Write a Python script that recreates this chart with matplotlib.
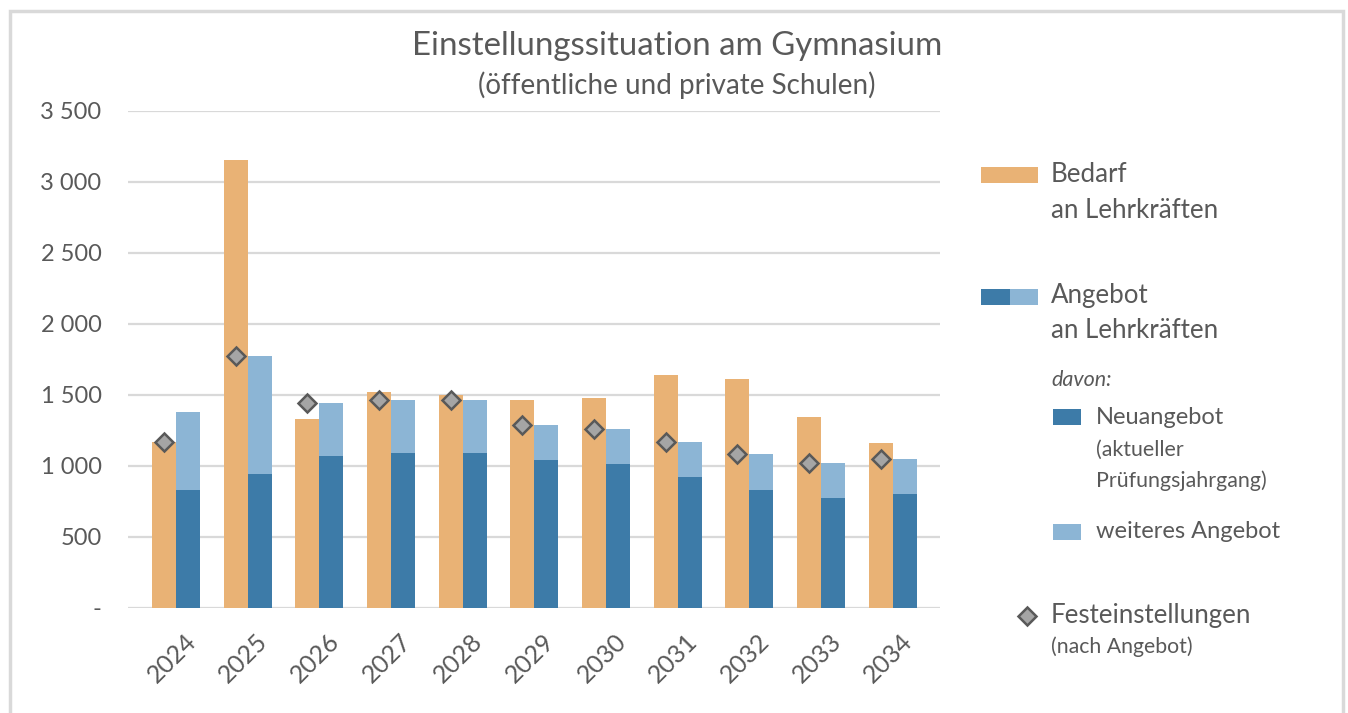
import matplotlib
matplotlib.use("Agg")
import matplotlib.pyplot as plt
from matplotlib.patches import Rectangle
from matplotlib.lines import Line2D
from matplotlib.transforms import ScaledTranslation
import numpy as np

years = ["2024", "2025", "2026", "2027", "2028", "2029", "2030", "2031", "2032", "2033", "2034"]
bedarf = [1170, 3150, 1330, 1520, 1500, 1460, 1480, 1640, 1610, 1340, 1160]
neuangebot = [830, 940, 1070, 1090, 1090, 1040, 1010, 920, 830, 770, 800]
angebot_gesamt = [1380, 1770, 1440, 1460, 1460, 1290, 1260, 1170, 1080, 1020, 1050]
festeinstellungen = [1170, 1770, 1440, 1460, 1460, 1290, 1260, 1170, 1080, 1020, 1050]
yticks = [0, 500, 1000, 1500, 2000, 2500, 3000, 3500]
ytick_labels = ["-", "500", "1 000", "1 500", "2 000", "2 500", "3 000", "3 500"]

weiteres = [t - n for t, n in zip(angebot_gesamt, neuangebot)]

C_OR = "#E9B275"
C_DB = "#3D7BA8"
C_LB = "#8CB5D5"
C_TXT = "#595959"
C_GRID = "#D9D9D9"

FONT = "Lato"
plt.rcParams["font.family"] = [FONT, "DejaVu Sans"]

W, H = 1348, 713
fig = plt.figure(figsize=(W / 100, H / 100), dpi=100)

def fx(x):
    return x / W

def fy(y):
    return 1 - y / H

ax = fig.add_axes([fx(128), fy(607.7), fx(940) - fx(128), fy(110.7) - fy(607.7)])
x = np.arange(len(years))
bw = 0.335
ax.bar(x - bw / 2, bedarf, width=bw, color=C_OR, zorder=3)
ax.bar(x + bw / 2, neuangebot, width=bw, color=C_DB, zorder=3)
ax.bar(x + bw / 2, weiteres, width=bw, bottom=neuangebot, color=C_LB, zorder=3)
ax.plot(x - bw / 2, festeinstellungen, linestyle="none", marker="D", markersize=9.5,
        markerfacecolor="#A5A5A5", markeredgecolor="#595959", markeredgewidth=1.8, zorder=4)

ax.set_xlim(-0.67, 10.66)
ax.set_ylim(0, 3500)
ax.set_yticks(yticks)
ax.set_yticklabels(ytick_labels)
ax.set_xticks(x)
ax.set_xticklabels(years, rotation=45, ha="right", rotation_mode="anchor")
ax.tick_params(axis="both", length=0, colors=C_TXT, labelsize=17)
ax.tick_params(axis="x", labelsize=18)
ax.tick_params(axis="y", pad=19)
ax.tick_params(axis="x", pad=16)
off = ScaledTranslation(8 / 100, 0, fig.dpi_scale_trans)
for lab in ax.get_xticklabels():
    lab.set_transform(lab.get_transform() + off)
ax.grid(axis="y", color=C_GRID, linewidth=1.6, zorder=0)
for s in ax.spines.values():
    s.set_visible(False)

# figure border
fig.add_artist(Rectangle((fx(10), fy(760)), fx(1343) - fx(10), fy(11) - fy(760),
                         transform=fig.transFigure, fill=False, edgecolor="#D9D9D9", linewidth=2.5))

# titles
fig.text(fx(677), fy(46), "Einstellungssituation am Gymnasium", ha="center", va="center",
         fontsize=23.8, color=C_TXT)
fig.text(fx(677), fy(85), "(öffentliche und private Schulen)", ha="center", va="center",
         fontsize=20, color=C_TXT)

# legend
def rect(x0, y0, x1, y1, c):
    fig.add_artist(Rectangle((fx(x0), fy(y1)), fx(x1) - fx(x0), fy(y0) - fy(y1),
                             transform=fig.transFigure, color=c, linewidth=0))

rect(981, 167, 1038, 183, C_OR)
fig.text(fx(1051), fy(175), "Bedarf", va="center", fontsize=18.6, color=C_TXT)
fig.text(fx(1051), fy(210), "an Lehrkräften", va="center", fontsize=18.6, color=C_TXT)

rect(981, 289, 1009.5, 305, C_DB)
rect(1009.5, 289, 1038, 305, C_LB)
fig.text(fx(1051), fy(296), "Angebot", va="center", fontsize=18.6, color=C_TXT)
fig.text(fx(1051), fy(330), "an Lehrkräften", va="center", fontsize=18.6, color=C_TXT)

fig.text(fx(1051), fy(380), "davon:", va="center", fontsize=15.5, color=C_TXT, style="italic")

rect(1053, 409, 1081, 424.5, C_DB)
fig.text(fx(1096), fy(417), "Neuangebot", va="center", fontsize=17, color=C_TXT)
fig.text(fx(1096), fy(450), "(aktueller", va="center", fontsize=15.4, color=C_TXT)
fig.text(fx(1096), fy(481), "Prüfungsjahrgang)", va="center", fontsize=15.4, color=C_TXT)

rect(1053, 524, 1081, 540, C_LB)
fig.text(fx(1096), fy(531), "weiteres Angebot", va="center", fontsize=17, color=C_TXT)

fig.add_artist(Line2D([fx(1026.5)], [fy(615.5)], transform=fig.transFigure, linestyle="none",
                      marker="D", markersize=9.5, markerfacecolor="#A5A5A5",
                      markeredgecolor="#595959", markeredgewidth=1.8))
fig.text(fx(1051), fy(616), "Festeinstellungen", va="center", fontsize=18.6, color=C_TXT)
fig.text(fx(1051), fy(647), "(nach Angebot)", va="center", fontsize=15.3, color=C_TXT)

fig.savefig("out.png", dpi=100)
